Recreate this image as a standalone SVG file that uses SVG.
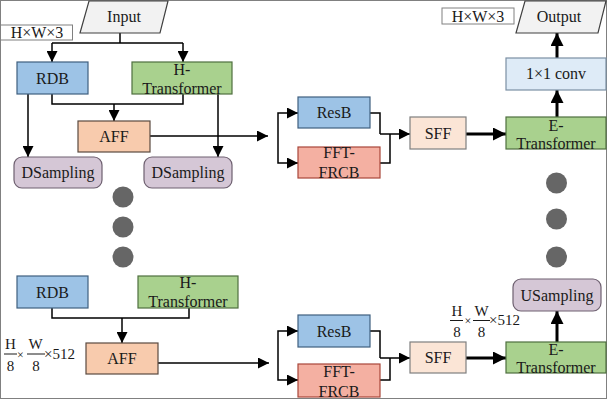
<svg xmlns="http://www.w3.org/2000/svg" width="607" height="400" viewBox="0 0 607 400">
<style>
text{font-family:"Liberation Serif","Times New Roman",serif;font-size:16px;fill:#1a1a1a;text-anchor:middle}
.fr{font-size:15px}
.l{text-anchor:start}
.box{stroke-width:1.2}
.rdb{fill:#9DC3E6;stroke:#3f5f7f}
.ht{fill:#A9D18E;stroke:#4f6f3f}
.aff{fill:#F8CBAD;stroke:#5a4a40}
.ds{fill:#D5C7D6;stroke:#6e6070}
.sff{fill:#FBE5D6;stroke:#7f7f7f}
.fft{fill:#F4B0A2;stroke:#A8473A}
.conv{fill:#DEEBF7;stroke:#7b8fa3}
.io{fill:#F2F2F2;stroke:#404040}
.lab{fill:#fff;stroke:#808080;stroke-width:1}
.dot{fill:#666}
.c{fill:none;stroke:#000;stroke-width:1.5}
.ca{fill:none;stroke:#000;stroke-width:1.5;marker-end:url(#a)}
.ct{fill:none;stroke:#000;stroke-width:3;marker-end:url(#b)}
.bar{stroke:#1a1a1a;stroke-width:1}
</style>
<defs>
<marker id="a" markerUnits="userSpaceOnUse" markerWidth="11" markerHeight="11" refX="11" refY="5.5" orient="auto"><path d="M0,0 L11,5.5 L0,11 z" fill="#000"/></marker>
<marker id="b" markerUnits="userSpaceOnUse" markerWidth="13" markerHeight="13" refX="13" refY="6.5" orient="auto"><path d="M0,0 L13,6.5 L0,13 z" fill="#000"/></marker>
</defs>
<rect x="0.5" y="0.5" width="606" height="398" fill="#fff" stroke="#808080" stroke-width="1"/>

<g id="connectors">
<path class="c" d="M120,33 V43 M52,43 H183"/>
<path class="ca" d="M52,43 V62"/>
<path class="ca" d="M183,43 V62"/>
<path class="c" d="M52,94 V104 H183 V94"/>
<path class="ca" d="M114,104 V121"/>
<path class="ca" d="M28,94 V157"/>
<path class="ca" d="M218,94 V157"/>
<path class="ca" d="M150,136 H268"/>
<path class="ca" d="M278,138 V113 H298"/>
<path class="ca" d="M278,138 V163 H298"/>
<path class="c" d="M370,113 H380 V134"/>
<path class="c" d="M380,163 H390 V134"/>
<path class="ca" d="M380,134 H410"/>
<path class="ct" d="M466,134 H506"/>
<path class="ct" d="M557,117 V90"/>
<path class="ct" d="M557,58 V33"/>

<path class="c" d="M52,308 V318 H189 V308"/>
<path class="ca" d="M122,318 V343"/>
<path class="ca" d="M158,363 H269"/>
<path class="ca" d="M278,355 V331 H298"/>
<path class="ca" d="M278,355 V380 H298"/>
<path class="c" d="M370,331 H380 V358"/>
<path class="c" d="M380,380 H390 V358"/>
<path class="ca" d="M380,358 H410"/>
<path class="ct" d="M466,358 H506"/>
<path class="ct" d="M557,342 V311"/>
</g>

<g id="input"><polygon class="io box" points="89,1 168,1 160,33 80,33"/><text x="124" y="22">Input</text></g>
<g id="label-in"><rect class="lab" x="0.5" y="25" width="72" height="15"/><text x="37" y="38">H×W×3</text></g>
<g id="rdb1"><rect class="rdb box" x="17" y="62" width="71" height="32"/><text x="52.5" y="84">RDB</text></g>
<g id="htrans1"><rect class="ht box" x="132" y="62" width="100" height="32"/><text x="182" y="75">H-</text><text x="182" y="94">Transformer</text></g>
<g id="aff1"><rect class="aff box" x="78" y="121" width="72" height="31"/><text x="114" y="142">AFF</text></g>
<g id="ds1"><rect class="ds box" x="14" y="157" width="88" height="31" rx="8"/><text x="58" y="178">DSampling</text></g>
<g id="ds2"><rect class="ds box" x="144" y="157" width="88" height="31" rx="8"/><text x="188" y="178">DSampling</text></g>
<g id="resb1"><rect class="rdb box" x="298" y="97" width="72" height="31"/><text x="334" y="118">ResB</text></g>
<g id="fft1"><rect class="fft box" x="298" y="147" width="82" height="31"/><text x="339" y="158">FFT-</text><text x="339" y="178">FRCB</text></g>
<g id="sff1"><rect class="sff box" x="410" y="117" width="56" height="32"/><text x="438" y="139">SFF</text></g>
<g id="etrans1"><rect class="ht box" x="506" y="117" width="100" height="32"/><text x="556" y="131">E-</text><text x="556" y="149">Transformer</text></g>
<g id="conv"><rect class="conv box" x="506" y="58" width="100" height="32"/><text x="556" y="79">1×1 conv</text></g>
<g id="output"><polygon class="io box" points="525,1 606,1 598,33 516,33"/><text x="559" y="22">Output</text></g>
<g id="label-out"><rect class="lab" x="442" y="8" width="72" height="16"/><text x="478" y="22">H×W×3</text></g>

<g id="dots-left"><circle class="dot" cx="123" cy="197" r="10.5"/><circle class="dot" cx="123" cy="227" r="10.5"/><circle class="dot" cx="123" cy="257" r="10.5"/></g>
<g id="dots-right"><circle class="dot" cx="556.5" cy="183" r="10.5"/><circle class="dot" cx="556.5" cy="219" r="10.5"/><circle class="dot" cx="556.5" cy="257" r="10.5"/></g>

<g id="rdb2"><rect class="rdb box" x="17" y="276" width="71" height="32"/><text x="52.5" y="298">RDB</text></g>
<g id="htrans2"><rect class="ht box" x="138" y="276" width="100" height="32"/><text x="188" y="288">H-</text><text x="188" y="307">Transformer</text></g>
<g id="aff2"><rect class="aff box" x="86" y="343" width="72" height="31"/><text x="122" y="364">AFF</text></g>
<g id="label-mid-left">
<text class="fr" x="10.5" y="349">H</text><line class="bar" x1="4" y1="354" x2="17" y2="354"/><text class="fr" x="10.5" y="371">8</text>
<text class="fr" x="20.5" y="359" style="font-size:12px">×</text>
<text class="fr" x="35.5" y="349">W</text><line class="bar" x1="27" y1="354" x2="45" y2="354"/><text class="fr" x="36" y="371">8</text>
<text class="fr l" x="44" y="359">×512</text>
</g>
<g id="resb2"><rect class="rdb box" x="298" y="315" width="72" height="32"/><text x="334" y="337">ResB</text></g>
<g id="fft2"><rect class="fft box" x="298" y="364" width="82" height="33"/><text x="339" y="377">FFT-</text><text x="339" y="397">FRCB</text></g>
<g id="sff2"><rect class="sff box" x="410" y="342" width="56" height="31"/><text x="438" y="363">SFF</text></g>
<g id="etrans2"><rect class="ht box" x="506" y="342" width="100" height="31"/><text x="556" y="355">E-</text><text x="556" y="373">Transformer</text></g>
<g id="usampling"><rect class="ds box" x="513" y="279" width="88" height="32" rx="8"/><text x="557" y="301">USampling</text></g>
<g id="label-mid-right">
<text class="fr" x="457" y="316">H</text><line class="bar" x1="450" y1="320.5" x2="463" y2="320.5"/><text class="fr" x="457" y="337">8</text>
<text class="fr" x="468" y="325" style="font-size:12px">×</text>
<text class="fr" x="481.5" y="316">W</text><line class="bar" x1="473" y1="320.5" x2="490" y2="320.5"/><text class="fr" x="481.5" y="337">8</text>
<text class="fr l" x="489" y="325">×512</text>
</g>
</svg>
